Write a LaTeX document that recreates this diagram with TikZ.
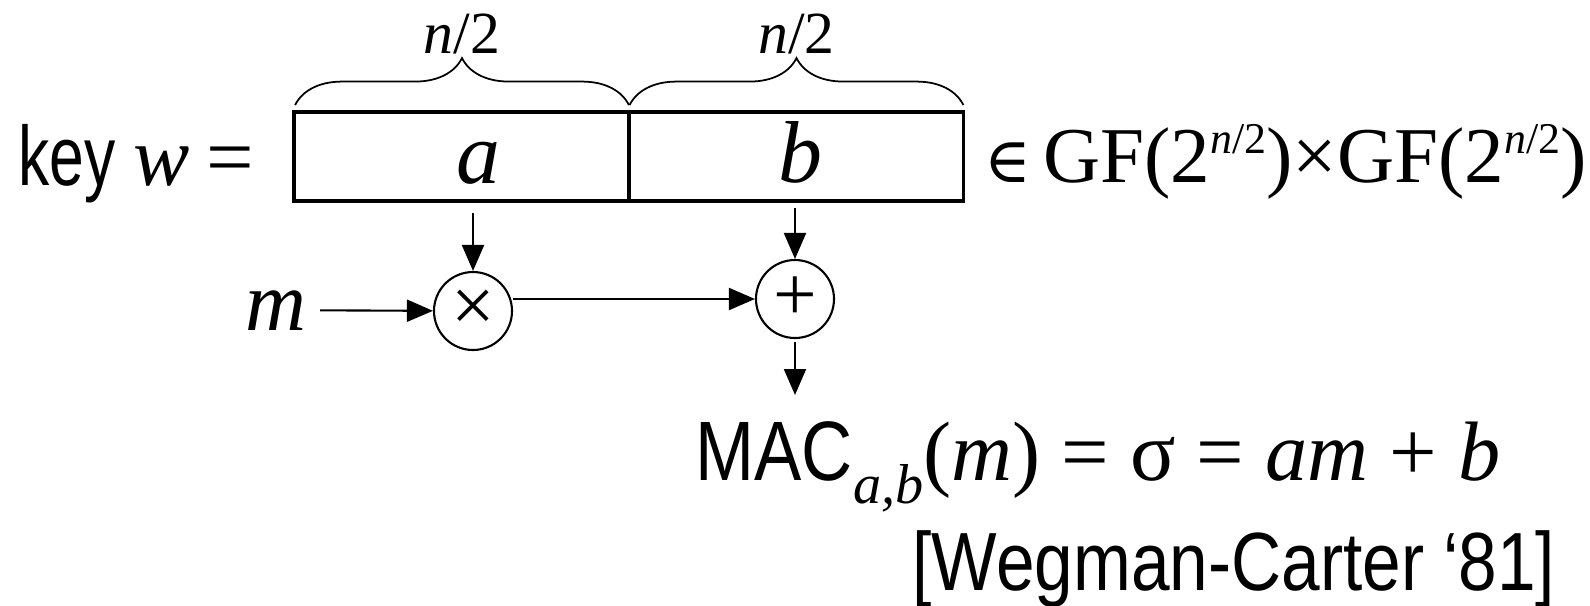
\documentclass[tikz,border=0pt]{standalone}
\usepackage{fontspec}
\setmainfont[FakeStretch=0.84]{Liberation Sans}
\newfontfamily\narrow[FakeStretch=0.74]{Liberation Sans}
\newfontfamily\tms{Liberation Serif}
\newfontfamily\djv{DejaVu Serif}
\usetikzlibrary{positioning,arrows.meta,decorations.pathreplacing}
\newcommand{\mvar}[1]{{\tms\itshape #1}}
\newcommand{\hexp}{\raisebox{0.29cm}{\fontsize{12.5}{12}\selectfont\mvar{n}/2}}

\begin{document}
\begin{tikzpicture}[
  arr/.style={-{Triangle[length=0.26cm,width=0.22cm]}, line width=0.6pt},
  half/.style={draw, line width=1.1pt, minimum width=3.35cm, minimum height=0.89cm, inner sep=0},
  op/.style={draw, circle, line width=0.6pt, minimum size=0.78cm, inner sep=0, font=\fontsize{22}{22}\selectfont\tms},
  brc/.style={decorate, decoration={brace, amplitude=0.47cm}, line width=0.5pt},
  sans/.style={font=\fontsize{24}{28}\selectfont},
  ser/.style={font=\fontsize{22.5}{27}\selectfont\tms}
]
\useasboundingbox (0,0) rectangle (15.9,-6.06);
% key halves
\node[half] (ka) at (4.615,-1.565) {};
\node[half] (kb) at (7.96,-1.565) {};
\node[font=\fontsize{25}{28}\selectfont\tms, anchor=base] (la) at (4.78,-1.83) {\mvar{a}};
\node[font=\fontsize{25}{28}\selectfont\tms, anchor=base] (lb) at (8.00,-1.82) {\mvar{b}};
% braces with n/2
\foreach \h in {ka,kb}{
  \draw[brc] ([shift={(0.03,0.05)}]\h.north west) -- ([shift={(-0.02,0.05)}]\h.north east)
    node[midway, above=0.5cm, inner sep=0, font=\fontsize{17}{20}\selectfont\tms] (n\h) {\mvar{n}/2};
}
% texts beside the key
\node[font=\fontsize{24}{28}\selectfont\narrow, anchor=base west, inner sep=0] (key) at (0.18,-1.85) {key \mvar{w} {\tms =}};
\node[font=\fontsize{22.5}{25}\selectfont\tms, anchor=base west, inner sep=0] (gf) at (9.84,-1.82)
  {{\fontsize{18}{18}\selectfont\djv ∈}\hspace{0.12cm}GF(2\hexp)×GF(2\hexp)};
% operators
\node[op] (mul) at (4.73,-3.11) {×};
\node[op] (add) at (7.95,-2.99) {+};
\node[font=\fontsize{24}{28}\selectfont\tms, inner sep=0.13cm, anchor=base] (m) at (2.76,-3.30) {\mvar{m}};
\coordinate (out) at (7.95,-3.95);
\draw[arr, shorten <=0.1cm] (ka.south -| mul) -- (mul);
\draw[arr, shorten <=0.05cm] (kb.south -| add) -- (add);
\draw[arr] (m) -- (mul);
\draw[arr] (mul.east |- add) -- (add);
\draw[arr, shorten <=0.03cm] (add) -- (out);
% result
\node[sans, anchor=base west, inner sep=0] (mac) at (6.95,-4.80)
  {MAC\raisebox{-0.23cm}{\fontsize{16}{16}\selectfont\mvar{a,b}}{\tms (\mvar{m}) = σ = \mvar{am} + \mvar{b}}};
\node[font=\fontsize{23.5}{28}\selectfont, anchor=base east, inner sep=0] (cite) at (15.56,-5.90) {[Wegman-Carter ‘81]};
\end{tikzpicture}
\end{document}
